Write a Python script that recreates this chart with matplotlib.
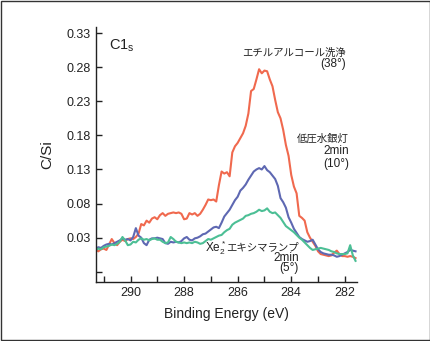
import matplotlib
matplotlib.use("Agg")
import matplotlib.pyplot as plt
import numpy as np
from matplotlib.patches import Rectangle

plt.rcParams['font.family'] = ['Liberation Sans', 'Noto Sans CJK JP', 'DejaVu Sans']
plt.rcParams['mathtext.fontset'] = 'custom'
plt.rcParams['mathtext.rm'] = 'Liberation Sans'

# 結合エネルギー (eV), 0.1 eV刻み
energy = np.round(np.arange(291.3, 281.55, -0.1), 1)

# エチルアルコール洗浄 (38°)
ethanol = [0.012, 0.010, 0.013, 0.014, 0.012, 0.020, 0.028, 0.022, 0.019, 0.024,
           0.027, 0.025, 0.028, 0.029, 0.028, 0.031, 0.036, 0.050, 0.048, 0.055,
           0.052, 0.058, 0.060, 0.057, 0.063, 0.066, 0.062, 0.065, 0.066, 0.067,
           0.066, 0.067, 0.065, 0.057, 0.058, 0.066, 0.064, 0.066, 0.062, 0.065,
           0.071, 0.078, 0.086, 0.085, 0.086, 0.083, 0.107, 0.127, 0.124, 0.126,
           0.120, 0.155, 0.164, 0.169, 0.176, 0.183, 0.194, 0.212, 0.245, 0.248,
           0.262, 0.277, 0.271, 0.275, 0.274, 0.262, 0.252, 0.232, 0.214, 0.205,
           0.188, 0.166, 0.150, 0.122, 0.105, 0.095, 0.062, 0.059, 0.055, 0.038,
           0.030, 0.024, 0.018, 0.010, 0.006, 0.005, 0.004, 0.003, 0.004, 0.008,
           0.011, 0.006, 0.003, 0.003, 0.002, 0.003, 0.002, 0.000]

# 低圧水銀灯 2min (10°)
hg_lamp = [0.014, 0.016, 0.015, 0.018, 0.020, 0.021, 0.020, 0.022, 0.024, 0.026,
           0.029, 0.027, 0.028, 0.026, 0.031, 0.044, 0.033, 0.030, 0.022, 0.019,
           0.027, 0.029, 0.029, 0.030, 0.029, 0.028, 0.022, 0.021, 0.024, 0.023,
           0.024, 0.023, 0.025, 0.029, 0.031, 0.027, 0.026, 0.029, 0.030, 0.032,
           0.035, 0.036, 0.039, 0.042, 0.045, 0.046, 0.044, 0.052, 0.061, 0.066,
           0.071, 0.078, 0.085, 0.090, 0.099, 0.103, 0.108, 0.115, 0.121, 0.127,
           0.130, 0.132, 0.130, 0.135, 0.129, 0.126, 0.121, 0.116, 0.106, 0.088,
           0.082, 0.074, 0.060, 0.052, 0.043, 0.037, 0.031, 0.028, 0.026, 0.024,
           0.025, 0.027, 0.020, 0.013, 0.009, 0.007, 0.006, 0.005, 0.005, 0.004,
           0.002, 0.003, 0.005, 0.007, 0.009, 0.012, 0.011, 0.010]

# Xe2*エキシマランプ 2min (5°)
xe_lamp = [0.012, 0.014, 0.013, 0.016, 0.017, 0.018, 0.020, 0.019, 0.021, 0.024,
           0.031, 0.026, 0.019, 0.020, 0.024, 0.023, 0.027, 0.029, 0.027, 0.028,
           0.026, 0.028, 0.029, 0.027, 0.027, 0.024, 0.022, 0.023, 0.031, 0.028,
           0.024, 0.023, 0.022, 0.023, 0.022, 0.023, 0.022, 0.024, 0.023, 0.021,
           0.022, 0.025, 0.028, 0.027, 0.029, 0.031, 0.033, 0.034, 0.038, 0.041,
           0.043, 0.049, 0.052, 0.054, 0.056, 0.058, 0.062, 0.063, 0.065, 0.066,
           0.068, 0.071, 0.069, 0.070, 0.073, 0.068, 0.066, 0.067, 0.063, 0.059,
           0.053, 0.047, 0.044, 0.041, 0.038, 0.034, 0.030, 0.027, 0.023, 0.019,
           0.015, 0.012, 0.013, 0.014, 0.015, 0.014, 0.013, 0.012, 0.010, 0.009,
           0.007, 0.006, 0.006, 0.006, 0.007, 0.019, 0.004, -0.004]

yticks = [-0.02, 0.03, 0.08, 0.13, 0.18, 0.23, 0.28, 0.33]
ytick_labels = ['', '0.03', '0.08', '0.13', '0.18', '0.23', '0.28', '0.33']
xticks = [290, 288, 286, 284, 282]

fig = plt.figure(figsize=(4.31, 3.41), dpi=100)
ax = fig.add_axes([0.222, 0.173, 0.606, 0.748])

ax.plot(energy, ethanol, color='#f0694e', lw=1.5)
ax.plot(energy, hg_lamp, color='#5e68b2', lw=1.5)
ax.plot(energy, xe_lamp, color='#4cbf95', lw=1.5)

ax.set_xlim(291.3, 281.55)
ax.set_ylim(-0.035, 0.339)
ax.set_yticks(yticks)
ax.set_yticklabels(ytick_labels)
ax.set_xticks(xticks)
ax.set_xticks([291, 289, 287, 285, 283], minor=True)
ax.tick_params(direction='in', length=4, width=1, labelsize=9, colors='#222222')
ax.tick_params(which='minor', direction='in', length=4, width=1, color='#222222')
ax.spines['top'].set_visible(False)
ax.spines['right'].set_visible(False)
for s in ['left', 'bottom']:
    ax.spines[s].set_color('#222222')
    ax.spines[s].set_linewidth(1)

ax.set_ylabel('C/Si', fontsize=11, color='#222222', labelpad=9)
ax.set_xlabel('Binding Energy (eV)', fontsize=10, color='#222222', labelpad=6)

# 注記 (和文は7.5pt, 欧文は8.5pt)
ink = '#222222'
jp_kw = dict(fontsize=7.5, ha='right', va='center', color=ink)
en_kw = dict(fontsize=8.5, ha='right', va='center', color=ink)

ax.text(0.05, 0.925, r'C1$_\mathregular{s}$', transform=ax.transAxes, fontsize=10.5,
        color=ink, va='center')

ax.text(281.97, 0.3015, 'エチルアルコール洗浄', **jp_kw)
ax.text(281.97, 0.2853, '(38°)', **en_kw)

ax.text(281.85, 0.1747, '低圧水銀灯', **jp_kw)
ax.text(281.85, 0.1564, '2min', **en_kw)
ax.text(281.85, 0.1383, '(10°)', **en_kw)

jp = ax.text(283.72, 0.0159, 'エキシマランプ', **jp_kw)
ax.annotate('Xe$_2^*$', xy=(0, 0.5), xycoords=jp, ha='right', va='center',
            fontsize=8.5, color=ink)
ax.text(283.72, 0.0006, '2min', **en_kw)
ax.text(283.72, -0.015, '(5°)', **en_kw)

fig.patches.append(Rectangle((0.002, 0.003), 0.996, 0.994, transform=fig.transFigure,
                             fill=False, edgecolor='#333333', lw=1))

fig.savefig('out.png', dpi=100)
